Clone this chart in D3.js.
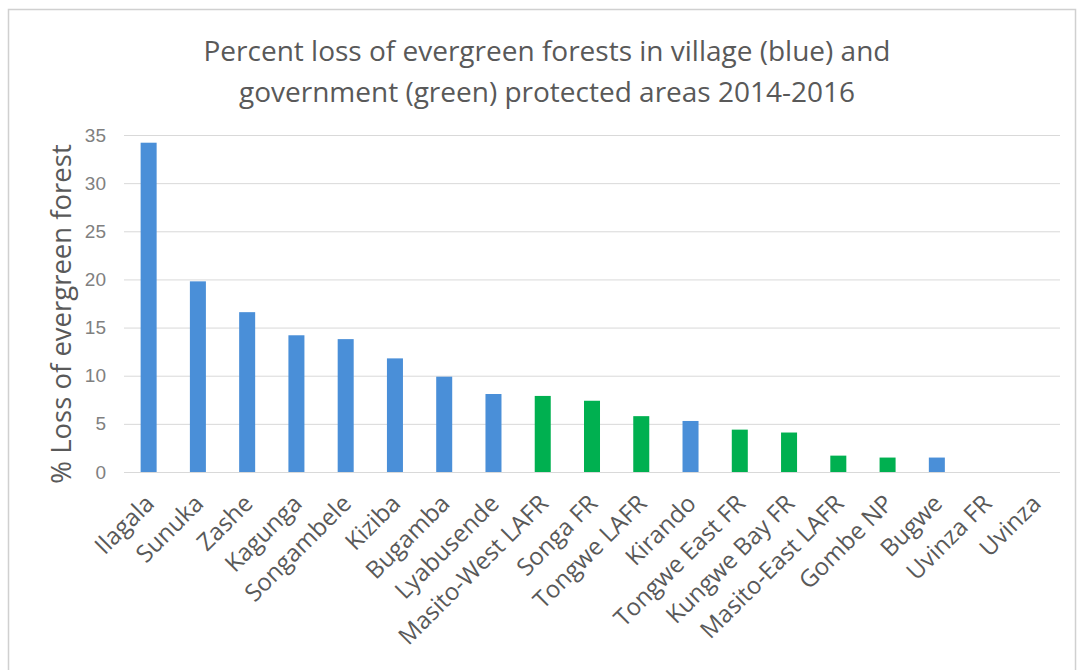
<!DOCTYPE html>
<html>
<head>
<meta charset="utf-8">
<script src="https://cdn.jsdelivr.net/npm/d3@7"></script>
<style>
  html, body { margin: 0; padding: 0; background: #fff; }
  svg { display: block; font-family: "Open Sans", "DejaVu Sans", sans-serif; }
</style>
</head>
<body>
<div id="chart"></div>
<script>
// Chart data
const areas = ['Ilagala', 'Sunuka', 'Zashe', 'Kagunga', 'Songambele', 'Kiziba', 'Bugamba',
  'Lyabusende', 'Masito-West LAFR', 'Songa FR', 'Tongwe LAFR', 'Kirando', 'Tongwe East FR',
  'Kungwe Bay FR', 'Masito-East LAFR', 'Gombe NP', 'Bugwe', 'Uvinza FR', 'Uvinza'];
const lossPct = [34.2, 19.8, 16.6, 14.2, 13.8, 11.8, 9.9, 8.1, 7.9, 7.4, 5.8, 5.3, 4.4, 4.1, 1.7, 1.5, 1.5, 0, 0];
// v = village (blue), g = government (green)
const areaType = ['v', 'v', 'v', 'v', 'v', 'v', 'v', 'v', 'g', 'g', 'g', 'v', 'g', 'g', 'g', 'g', 'v', 'g', 'v'];
const yTicks = [0, 5, 10, 15, 20, 25, 30, 35];
const titleLines = ['Percent loss of evergreen forests in village (blue) and',
  'government (green) protected areas 2014-2016'];
const yTitle = '% Loss of evergreen forest';

const width = 1086, height = 670;
const plot = { left: 124, right: 1060, top: 135, bottom: 472 };
const typeColor = { v: '#4a8fd8', g: '#00b050' };

const svg = d3.select('#chart')
  .append('svg')
  .attr('width', width)
  .attr('height', height);

// Outer frame
svg.append('rect')
  .attr('x', 8.5).attr('y', 9.5)
  .attr('width', 1067).attr('height', 700)
  .attr('fill', '#fff')
  .attr('stroke', '#d0d0d0')
  .attr('stroke-width', 1.5);

const x = d3.scaleBand()
  .domain(areas)
  .range([plot.left, plot.right])
  .paddingInner(0.675)
  .paddingOuter(0.3375);

const y = d3.scaleLinear()
  .domain([0, 35])
  .range([plot.bottom, plot.top]);

// Gridlines + y tick labels
const yAxis = d3.axisLeft(y)
  .tickValues(yTicks)
  .tickSize(-(plot.right - plot.left))
  .tickPadding(18)
  .tickFormat(d3.format('d'));

const gy = svg.append('g')
  .attr('transform', `translate(${plot.left},0)`)
  .call(yAxis);
gy.select('.domain').remove();
gy.selectAll('.tick line')
  .attr('stroke', '#d9d9d9')
  .attr('stroke-width', 1);
gy.selectAll('.tick text')
  .attr('fill', '#808080')
  .style('font-size', '19px');

// Bars
svg.append('g')
  .selectAll('rect')
  .data(areas)
  .enter()
  .append('rect')
  .attr('x', d => x(d))
  .attr('y', (d, i) => y(lossPct[i]))
  .attr('width', x.bandwidth())
  .attr('height', (d, i) => y(0) - y(lossPct[i]))
  .attr('fill', (d, i) => typeColor[areaType[i]]);

// X labels, rotated
svg.append('g')
  .selectAll('text')
  .data(areas)
  .enter()
  .append('text')
  .attr('transform', d => `translate(${x(d) + x.bandwidth() / 2 + 7},${plot.bottom + 33}) rotate(-45)`)
  .attr('text-anchor', 'end')
  .attr('fill', '#595959')
  .style('font-size', '24px')
  .text(d => d);

// Y title
svg.append('text')
  .attr('transform', `translate(71,314) rotate(-90)`)
  .attr('text-anchor', 'middle')
  .attr('fill', '#595959')
  .style('font-size', '27.5px')
  .text(yTitle);

// Chart title
svg.append('g')
  .selectAll('text')
  .data(titleLines)
  .enter()
  .append('text')
  .attr('x', 547)
  .attr('y', (d, i) => 61 + i * 41)
  .attr('text-anchor', 'middle')
  .attr('fill', '#595959')
  .style('font-size', '28px')
  .text(d => d);
</script>
</body>
</html>
